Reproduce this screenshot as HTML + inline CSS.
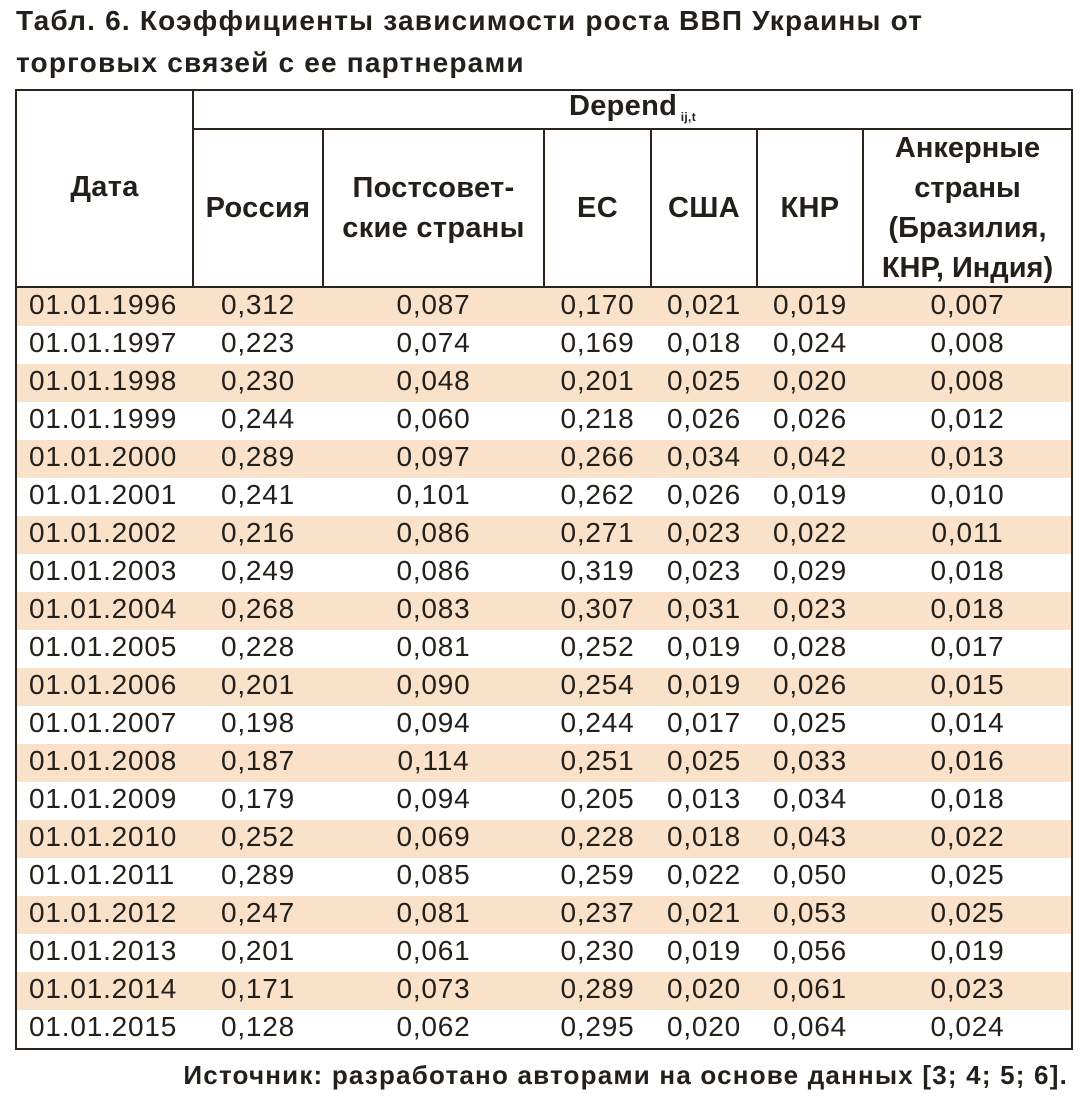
<!DOCTYPE html>
<html><head><meta charset="utf-8">
<style>
body{margin:0;width:1080px;height:1096px;background:#fff;position:relative;overflow:hidden;font-family:"Liberation Sans",sans-serif;color:#231f1a}
.abs{position:absolute}
.title{left:16px;top:0px;font-weight:bold;font-size:28px;line-height:42px;letter-spacing:1.2px;white-space:nowrap}
.tbl{left:15px;top:89px;width:1054px;height:957px;border:2px solid #2a241c;box-sizing:content-box}
.hd{position:absolute;font-weight:bold;font-size:29px;line-height:40px;text-align:center;display:flex;align-items:center;justify-content:center;letter-spacing:0.3px;white-space:nowrap}
.vl{position:absolute;width:2px;background:#2a241c}
.hl{position:absolute;height:2px;background:#2a241c}
.row{position:absolute;left:0;width:1054px;height:38px}
.cell{position:absolute;top:-2px;height:38px;line-height:38px;font-size:28px;text-align:center;letter-spacing:0.8px}
.src{right:12px;top:1060px;font-weight:bold;font-size:26px;letter-spacing:1.2px;white-space:nowrap}
</style></head><body>
<div class="abs title">Табл. 6. Коэффициенты зависимости роста ВВП Украины от<br>торговых связей с ее партнерами</div>
<div class="abs tbl" id="tbl">
  <div class="vl" style="left:175px;top:0;height:196px"></div>
  <div class="hl" style="left:175px;top:37px;width:879px"></div>
  <div class="vl" style="left:305px;top:37px;height:159px"></div>
  <div class="vl" style="left:526px;top:37px;height:159px"></div>
  <div class="vl" style="left:633px;top:37px;height:159px"></div>
  <div class="vl" style="left:739px;top:37px;height:159px"></div>
  <div class="vl" style="left:845px;top:37px;height:159px"></div>
  <div class="hl" style="left:0;top:195px;width:1054px"></div>
  <div class="hd" style="left:0;top:0;width:175px;height:196px"><span style="position:relative;top:-2px">Дата</span></div>
  <div class="hd" style="left:177px;top:0;width:877px;height:37px"><span style="position:relative;top:2px">Depend<sub style="font-size:12px;vertical-align:-6px"> ij,t</sub></span></div>
  <div class="hd" style="left:177px;top:39px;width:128px;height:156px">Россия</div>
  <div class="hd" style="left:307px;top:39px;width:219px;height:156px"><span>Постсовет-<br>ские страны</span></div>
  <div class="hd" style="left:528px;top:39px;width:105px;height:156px">ЕС</div>
  <div class="hd" style="left:635px;top:39px;width:104px;height:156px">США</div>
  <div class="hd" style="left:741px;top:39px;width:104px;height:156px">КНР</div>
  <div class="hd" style="left:847px;top:39px;width:207px;height:156px;letter-spacing:0"><span>Анкерные<br>страны<br>(Бразилия,<br>КНР, Индия)</span></div>
  <div id="body" class="abs" style="left:0;top:197px;width:1054px;height:760px"></div>
</div>
<div class="abs src">Источник: разработано авторами на основе данных [3; 4; 5; 6].</div>
<script>
const dates=["01.01.1996","01.01.1997","01.01.1998","01.01.1999","01.01.2000","01.01.2001","01.01.2002","01.01.2003","01.01.2004","01.01.2005","01.01.2006","01.01.2007","01.01.2008","01.01.2009","01.01.2010","01.01.2011","01.01.2012","01.01.2013","01.01.2014","01.01.2015"];
const russia=["0,312","0,223","0,230","0,244","0,289","0,241","0,216","0,249","0,268","0,228","0,201","0,198","0,187","0,179","0,252","0,289","0,247","0,201","0,171","0,128"];
const postSoviet=["0,087","0,074","0,048","0,060","0,097","0,101","0,086","0,086","0,083","0,081","0,090","0,094","0,114","0,094","0,069","0,085","0,081","0,061","0,073","0,062"];
const eu=["0,170","0,169","0,201","0,218","0,266","0,262","0,271","0,319","0,307","0,252","0,254","0,244","0,251","0,205","0,228","0,259","0,237","0,230","0,289","0,295"];
const usa=["0,021","0,018","0,025","0,026","0,034","0,026","0,023","0,023","0,031","0,019","0,019","0,017","0,025","0,013","0,018","0,022","0,021","0,019","0,020","0,020"];
const china=["0,019","0,024","0,020","0,026","0,042","0,019","0,022","0,029","0,023","0,028","0,026","0,025","0,033","0,034","0,043","0,050","0,053","0,056","0,061","0,064"];
const anchor=["0,007","0,008","0,008","0,012","0,013","0,010","0,011","0,018","0,018","0,017","0,015","0,014","0,016","0,018","0,022","0,025","0,025","0,019","0,023","0,024"];
const cols=[[177,128,russia],[307,219,postSoviet],[528,105,eu],[635,104,usa],[741,104,china],[847,207,anchor]];
const body=document.getElementById('body');
dates.forEach((d,i)=>{
  const r=document.createElement('div');
  r.className='row';
  r.style.top=(i*38)+'px';
  if(i%2===0) r.style.background='#f9e2c9';
  
  
  const dc=document.createElement('div');
  dc.className='cell';
  dc.style.left='12px';dc.style.textAlign='left';
  dc.textContent=d;
  
  
  r.appendChild(dc);
  cols.forEach(c=>{
    const e=document.createElement('div');
    e.className='cell';
    e.style.left=c[0]+'px';e.style.width=c[1]+'px';
    e.textContent=c[2][i];
    
    
    r.appendChild(e);
  });
  body.appendChild(r);
});
</script>
</body></html>
